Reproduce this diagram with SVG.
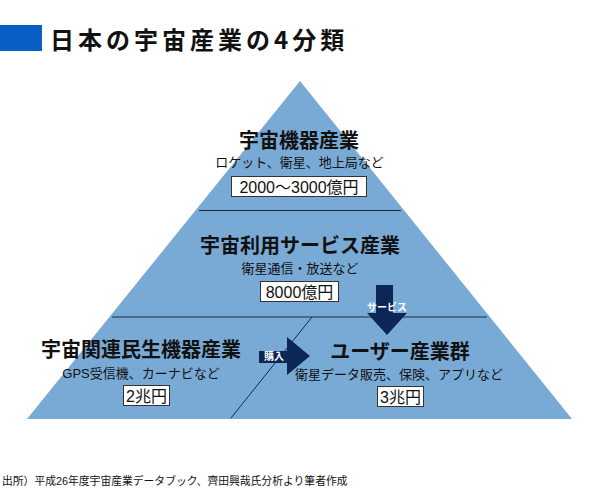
<svg xmlns="http://www.w3.org/2000/svg" width="600" height="500" viewBox="0 0 600 500">
<style>
text{font-family:"Liberation Sans","Noto Sans CJK JP",sans-serif;fill:#111}
.h{font-size:20px;font-weight:bold;text-anchor:middle}
.s{font-size:13px;text-anchor:middle}
.v{font-size:16px;text-anchor:middle}
.box{fill:#fff;stroke:#333;stroke-width:1}
.ln{stroke:#1b2a3c;stroke-width:1;fill:none}
.arr{fill:#0c2656}
.al{font-size:10px;font-weight:bold;fill:#fff;text-anchor:middle}
</style>
<rect width="600" height="500" fill="#fff"/>
<g id="title">
<rect x="0" y="25" width="42" height="26" fill="#0a5fc4"/>
<text x="50" y="49" style="font-size:24px;font-weight:bold;letter-spacing:4px;font-family:'Noto Sans CJK JP',sans-serif">日本の宇宙産業の4分類</text>
</g>
<g id="pyramid">
<polygon points="300,81 27,419 572,419" fill="#79aad5"/>
</g>
<g id="connectors">
<line class="ln" x1="199" y1="210.5" x2="401" y2="210.5"/>
<line class="ln" x1="112" y1="317" x2="487" y2="317"/>
<line class="ln" x1="312" y1="317" x2="231" y2="418"/>
<polygon class="arr" points="376,285 393,285 393,313 407,313 387,335 367,313 376,313"/>
<text class="al" x="387" y="311">サービス</text>
<polygon class="arr" points="259,351 287,351 287,337 310,356 287,375 287,363 259,363"/>
<text class="al" x="274" y="360">購入</text>
</g>
<g id="node-equipment">
<text class="h" x="299" y="148">宇宙機器産業</text>
<text class="s" x="299.5" y="167">ロケット、衛星、地上局など</text>
<rect class="box" x="231.5" y="176.5" width="135" height="20"/>
<text class="v" x="299" y="192.5">2000〜3000億円</text>
</g>
<g id="node-service">
<text class="h" x="300" y="253">宇宙利用サービス産業</text>
<text class="s" x="300" y="273">衛星通信・放送など</text>
<rect class="box" x="260.5" y="281.5" width="78" height="20"/>
<text class="v" x="299.5" y="297.5">8000億円</text>
</g>
<g id="node-consumer">
<text class="h" x="141" y="357">宇宙関連民生機器産業</text>
<text class="s" x="141" y="378">GPS受信機、カーナビなど</text>
<rect class="box" x="123.5" y="385.5" width="46" height="20"/>
<text class="v" x="146.5" y="401.5">2兆円</text>
</g>
<g id="node-user">
<text class="h" x="400" y="359">ユーザー産業群</text>
<text class="s" x="399" y="379">衛星データ販売、保険、アプリなど</text>
<rect class="box" x="377.5" y="386.5" width="46" height="20"/>
<text class="v" x="400.5" y="402.5">3兆円</text>
</g>
<g id="footer">
<text x="2" y="485" style="font-size:10.8px">出所）平成26年度宇宙産業データブック、齊田興哉氏分析より筆者作成</text>
</g>
</svg>
